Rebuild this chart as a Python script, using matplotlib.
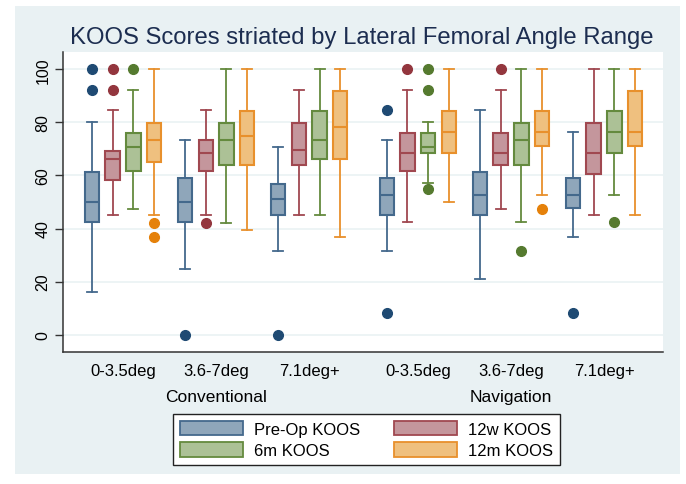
import matplotlib
matplotlib.use('Agg')
import matplotlib.pyplot as plt
from matplotlib.patches import Patch, Rectangle

plt.rcParams['font.family'] = ['Liberation Sans', 'DejaVu Sans']

series = ['Pre-Op KOOS', '12w KOOS', '6m KOOS', '12m KOOS']
groups = ['0-3.5deg', '3.6-7deg', '7.1deg+', '0-3.5deg', '3.6-7deg', '7.1deg+']
panels = ['Conventional', 'Navigation']

# per group, per series: (whislo, q1, median, q3, whishi, outliers)
stats = [
    [(16.0, 42.6, 50.1, 61.3, 80.0, [100, 92.1]),
     (45.1, 58.4, 66.2, 69.2, 84.7, [100, 92.1]),
     (47.4, 61.7, 70.9, 76.1, 92.1, [100]),
     (45.1, 65.1, 73.5, 79.8, 100, [42.2, 36.8])],
    [(24.9, 42.6, 50.1, 59.2, 73.5, [0]),
     (45.1, 61.7, 68.3, 73.2, 84.7, [42.2]),
     (42.2, 63.9, 73.5, 79.8, 100, []),
     (39.6, 63.9, 74.9, 84.4, 100, [])],
    [(31.4, 45.2, 51.3, 56.8, 70.6, [0]),
     (45.1, 63.9, 69.6, 79.8, 92.1, []),
     (45.1, 66.3, 73.5, 84.4, 100, []),
     (36.9, 66.3, 78.1, 91.7, 100, [])],
    [(31.4, 45.2, 52.6, 59.2, 73.5, [84.7, 8.2]),
     (42.3, 61.7, 68.3, 76.1, 92.1, [100]),
     (57.2, 68.5, 70.9, 76.1, 80.0, [100, 92.1, 54.9]),
     (50.1, 68.5, 76.5, 84.4, 100, [])],
    [(21.0, 45.2, 52.6, 61.3, 84.7, []),
     (47.4, 63.9, 68.3, 76.1, 92.1, [100]),
     (42.3, 63.9, 73.5, 79.8, 100, [31.4]),
     (52.6, 71.0, 76.5, 84.4, 100, [47.4])],
    [(36.9, 47.7, 52.6, 59.2, 76.5, [8.2]),
     (45.1, 60.7, 68.3, 79.8, 100, []),
     (52.6, 68.5, 76.5, 84.4, 100, [42.3]),
     (45.1, 71.0, 76.5, 91.7, 100, [])],
]

group_centers = [2.9, 7.4, 11.9, 17.15, 21.65, 26.15]
fills = ['#8fa6ba', '#c4969c', '#acc196', '#efc07f']
edges = ['#44698c', '#a04850', '#648a3e', '#e8902c']
dots = ['#1f4a73', '#93363e', '#557a2f', '#e5810a']

fig = plt.figure(figsize=(6.86, 4.85), dpi=100)
fig.patch.set_facecolor('white')
fig.patches.append(Rectangle((15 / 686, 1 - 475 / 485), 665 / 686, 468 / 485,
                             transform=fig.transFigure, facecolor='#e9f1f3',
                             edgecolor='none', zorder=-5))

ax = fig.add_axes([63 / 686, 1 - 352.7 / 485, 600 / 686, 299.7 / 485])
ax.set_facecolor('white')

for gi, center in enumerate(group_centers):
    for si in range(4):
        lo, q1, med, q3, hi, fl = stats[gi][si]
        pos = center + (si - 1.5)
        bp = ax.bxp([dict(whislo=lo, q1=q1, med=med, q3=q3, whishi=hi, fliers=fl)],
                    positions=[pos], widths=0.7, patch_artist=True,
                    showfliers=True, manage_ticks=False,
                    boxprops=dict(facecolor=fills[si], edgecolor=edges[si], linewidth=1.5),
                    medianprops=dict(color=edges[si], linewidth=1.5),
                    whiskerprops=dict(color=edges[si], linewidth=1.3),
                    capprops=dict(color=edges[si], linewidth=1.3),
                    flierprops=dict(marker='o', markerfacecolor=dots[si],
                                    markeredgecolor=dots[si], markersize=7))
        for c in bp['caps']:
            x0, x1 = c.get_xdata()
            m = (x0 + x1) / 2
            c.set_xdata([m - 0.24, m + 0.24])

ax.set_xlim(0, 29)
ax.set_ylim(-6.4, 106.5)
ax.set_yticks([0, 20, 40, 60, 80, 100])
ax.tick_params(axis='y', labelsize=11.5, length=6, width=1, color='#333333',
               pad=3, labelrotation=90)
for lab in ax.get_yticklabels():
    lab.set_va('center')
ax.set_xticks(group_centers, groups)
ax.tick_params(axis='x', labelsize=12, length=0, pad=8)
ax.yaxis.grid(True, color='#eaf2f3', linewidth=1.2)
ax.set_axisbelow(True)
for s in ['top', 'right']:
    ax.spines[s].set_visible(False)
for s in ['left', 'bottom']:
    ax.spines[s].set_color('#333333')
    ax.spines[s].set_linewidth(1.1)

tr = ax.get_xaxis_transform()
ax.text(group_centers[1], -0.148, panels[0], transform=tr, ha='center', va='center', fontsize=12.5)
ax.text(group_centers[4], -0.148, panels[1], transform=tr, ha='center', va='center', fontsize=12.5)

fig.text(0.528, 1 - 38 / 485, 'KOOS Scores striated by Lateral Femoral Angle Range',
         ha='center', va='center', fontsize=17.2, color='#1c2d50')

handles = [Patch(facecolor=fills[i], edgecolor=edges[i], linewidth=1.3, label=series[i])
           for i in [0, 2, 1, 3]]
leg = fig.legend(handles=handles, ncol=2, loc='center',
                 bbox_to_anchor=((172 + 561) / 2 / 686, 1 - (413 + 468) / 2 / 485),
                 fontsize=12, frameon=True, fancybox=False, edgecolor='#222222',
                 framealpha=1, handlelength=3.8, handleheight=0.95, handletextpad=0.65,
                 columnspacing=2.0, labelspacing=0.35, borderpad=0.4)
leg.get_frame().set_linewidth(1.0)

fig.savefig('out.png', dpi=100)
